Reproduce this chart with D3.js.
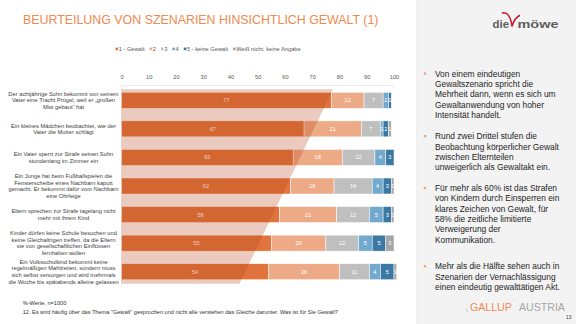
<!DOCTYPE html>
<html>
<head>
<meta charset="utf-8">
<script src="https://cdn.jsdelivr.net/npm/d3@7"></script>
<style>
  html, body { margin: 0; padding: 0; background: #fff; }
  svg { display: block; font-family: "Liberation Sans", Arial, sans-serif; }
</style>
</head>
<body>
<svg id="chart" width="576" height="324"></svg>
<script>
// Scenario labels (one entry per bar, lines of the wrapped label)
const categories = [
  ["Der achtjährige Sohn bekommt von seinem", "Vater eine Tracht Prügel, weil er „großen", "Mist gebaut“ hat"],
  ["Ein kleines Mädchen beobachtet, wie der", "Vater die Mutter schlägt"],
  ["Ein Vater sperrt zur Strafe seinen Sohn", "stundenlang im Zimmer ein"],
  ["Ein Junge hat beim Fußballspielen die", "Fensterscheibe eines Nachbarn kaputt", "gemacht. Er bekommt dafür vom Nachbarn", "eine Ohrfeige"],
  ["Eltern sprechen zur Strafe tagelang nicht", "mehr mit ihrem Kind"],
  ["Kinder dürfen keine Schule besuchen und", "keine Gleichaltrigen treffen, da die Eltern", "sie von gesellschaftlichen Einflüssen", "fernhalten wollen"],
  ["Ein Volksschulkind bekommt keine", "regelmäßigen Mahlzeiten, sondern muss", "sich selbst versorgen und wird mehrmals", "die Woche bis spätabends alleine gelassen"]
];

// Answer scale and shares in percent
const seriesNames = ["1 - Gewalt", "2", "3", "4", "5 - keine Gewalt", "Weiß nicht, keine Angabe"];
const gewalt1   = [77, 67, 63, 62, 58, 55, 54];
const stufe2    = [12, 21, 18, 16, 21, 20, 26];
const stufe3    = [7, 7, 12, 14, 12, 12, 11];
const stufe4    = [2, 1, 4, 4, 5, 5, 4];
const keine5    = [1, 2, 3, 3, 3, 5, 5];
const weissNicht = [0, 1, 0, 1, 1, 3, 1];
const seriesValues = [gewalt1, stufe2, stufe3, stufe4, keine5, weissNicht];
const seriesColors = ["#E0743C", "#EDAA86", "#BFBFBF", "#74A9CE", "#3B79A4", "#A6A6A6"];

const xTicks = [0, 10, 20, 30, 40, 50, 60, 70, 80, 90, 100];

const bullets = [
  ["Von einem eindeutigen", "Gewaltszenario spricht die", "Mehrheit dann, wenn es sich um", "Gewaltanwendung von hoher", "Intensität handelt."],
  ["Rund zwei Drittel stufen die", "Beobachtung körperlicher Gewalt", "zwischen Elternteilen", "unweigerlich als Gewaltakt ein."],
  ["Für mehr als 60% ist das Strafen", "von Kindern durch Einsperren ein", "klares Zeichen von Gewalt, für", "58% die zeitliche limitierte", "Verweigerung der", "Kommunikation."],
  ["Mehr als die Hälfte sehen auch in", "Szenarien der Vernachlässigung", "einen eindeutig gewalttätigen Akt."]
];

const svg = d3.select("#chart");
const FONT = "\"Liberation Sans\", Arial, sans-serif";

// Right side panel
svg.append("rect").attr("x", 417).attr("y", 0).attr("width", 159).attr("height", 324).attr("fill", "#F3F3F3");
svg.append("line").attr("x1", 417).attr("x2", 417).attr("y1", 0).attr("y2", 324).attr("stroke", "#E6E6E6").attr("stroke-width", 1);

// Title
svg.append("text")
  .attr("x", 23).attr("y", 23.5)
  .attr("font-size", 12.4).attr("fill", "#EF8A4F")
  .text("BEURTEILUNG VON SZENARIEN HINSICHTLICH GEWALT (1)");

// Scales
const x = d3.scaleLinear().domain([0, 100]).range([121.5, 394]);
const rows = d3.range(categories.length);
const y = d3.scaleBand().domain(rows).range([86, 286]).paddingInner(0.44).paddingOuter(0.22);

// Stack data
const table = rows.map(i => {
  const o = { idx: i };
  seriesNames.forEach((s, k) => { o[s] = seriesValues[k][i]; });
  return o;
});
const stacked = d3.stack().keys(seriesNames)(table);

// Legend
const legend = svg.append("g").attr("font-size", 5.7).attr("fill", "#595959");
let lx = 115.5;
seriesNames.forEach((s, k) => {
  legend.append("rect").attr("x", lx).attr("y", 47.6).attr("width", 2.6).attr("height", 2.6).attr("fill", seriesColors[k]);
  const t = legend.append("text").attr("x", lx + 3.2).attr("y", 51).text(s);
  lx += 3.2 + t.node().getComputedTextLength() + 5;
});

// Axis on top
const axis = svg.append("g").attr("transform", "translate(0,79)")
  .call(d3.axisTop(x).tickValues(xTicks).tickSize(0).tickPadding(0));
axis.select(".domain").remove();
axis.selectAll("text").attr("font-size", 5.7).attr("fill", "#595959").attr("font-family", FONT);

// Plot frame
svg.append("line").attr("x1", x(0)).attr("x2", x(100)).attr("y1", 85.5).attr("y2", 85.5).attr("stroke", "#E4E4E4").attr("stroke-width", 0.8);
svg.append("line").attr("x1", x(0)).attr("x2", x(0)).attr("y1", 85.5).attr("y2", 286).attr("stroke", "#E4E4E4").attr("stroke-width", 0.8);

// Bars
const layers = svg.append("g").selectAll("g").data(stacked).join("g").attr("fill", (d, k) => seriesColors[k]);
layers.selectAll("rect").data(d => d).join("rect")
  .attr("x", d => x(d[0]))
  .attr("width", d => Math.max(0, x(d[1]) - x(d[0])))
  .attr("y", (d, i) => y(i))
  .attr("height", y.bandwidth())
  .attr("stroke", "#fff").attr("stroke-width", 0.5);

// Value labels
const labels = svg.append("g").attr("font-size", 5.6).attr("fill", "#fff").attr("text-anchor", "middle");
stacked.forEach(layer => {
  layer.forEach((d, i) => {
    const v = d[1] - d[0];
    if (v >= 1) {
      labels.append("text")
        .attr("x", x((d[0] + d[1]) / 2))
        .attr("y", y(i) + y.bandwidth() / 2 + 2)
        .text(v);
    }
  });
});

// Decorative translucent slanted band across the bar area
const yTop = y(0) - 3, yBot = y(rows.length - 1) + y.bandwidth() + 4;
svg.append("path")
  .attr("d", `M${x(0)},${yTop} L${x(77.6)},${yTop} L${x(43.3)},${yBot} L${x(0)},${yBot} Z`)
  .attr("fill", "rgb(182,68,25)").attr("fill-opacity", 0.28);

// Category labels
const catG = svg.append("g").attr("font-size", 5.75).attr("fill", "#404040").attr("text-anchor", "middle");
categories.forEach((lines, i) => {
  const cy = y(i) + y.bandwidth() / 2;
  const lh = 6.7;
  lines.forEach((ln, j) => {
    catG.append("text")
      .attr("x", 63.5)
      .attr("y", cy + (j - (lines.length - 1) / 2) * lh + 2)
      .text(ln);
  });
});

// Footnotes
svg.append("text").attr("x", 22.7).attr("y", 305.2).attr("font-size", 5.6).attr("fill", "#333").text("%-Werte, n=1000");
svg.append("text").attr("x", 22.7).attr("y", 314.2).attr("font-size", 5.6).attr("fill", "#333")
  .text("12. Es wird häufig über das Thema \"Gewalt\" gesprochen und nicht alle verstehen das Gleiche darunter. Was ist für Sie Gewalt?");

// Logo "die möwe"
const logo = svg.append("g");
logo.append("text").attr("x", 492.5).attr("y", 28.3).attr("font-size", 11).attr("font-weight", "bold").attr("fill", "#5E5E5E")
  .attr("textLength", 16.5).attr("lengthAdjust", "spacingAndGlyphs").text("die");
logo.append("text").attr("x", 517.5).attr("y", 28.3).attr("font-size", 11).attr("font-weight", "bold").attr("fill", "#5E5E5E")
  .attr("textLength", 41).attr("lengthAdjust", "spacingAndGlyphs").text("möwe");
logo.append("path")
  .attr("d", "M502.5,13 Q510,11.5 512,26.5 Q514,18.5 519.5,15.5")
  .attr("fill", "none").attr("stroke", "#C8142F").attr("stroke-width", 1.5).attr("stroke-linecap", "round");

// Bullet points
const bStarts = [76.7, 139.3, 191, 269.3];
const bG = svg.append("g").attr("font-size", 8.4).attr("fill", "#1E1E1E");
bullets.forEach((lines, k) => {
  bG.append("rect").attr("x", 423.8).attr("y", bStarts[k] - 4.3).attr("width", 2.4).attr("height", 2.4).attr("fill", "#F4A67A");
  lines.forEach((ln, j) => {
    bG.append("text").attr("x", 435).attr("y", bStarts[k] + j * 10.35).text(ln);
  });
});

// Gallup Austria logo
svg.append("text").attr("x", 470).attr("y", 310.5).attr("font-size", 10.6).attr("fill", "#EE8A52").text("GALLUP");
svg.append("text").attr("x", 519).attr("y", 310.5).attr("font-size", 10.6).attr("fill", "#A6A6A6").text("AUSTRIA");
svg.append("text").attr("x", 513.5).attr("y", 303).attr("font-size", 6).attr("fill", "#A6A6A6").text("’");
svg.append("path").attr("d", "M466.5,308 L466.5,311 L468.5,311").attr("fill", "none").attr("stroke", "#C0C0C0").attr("stroke-width", 0.6);
svg.append("text").attr("x", 566).attr("y", 319).attr("font-size", 5).attr("fill", "#333").text("13");
</script>
</body>
</html>
